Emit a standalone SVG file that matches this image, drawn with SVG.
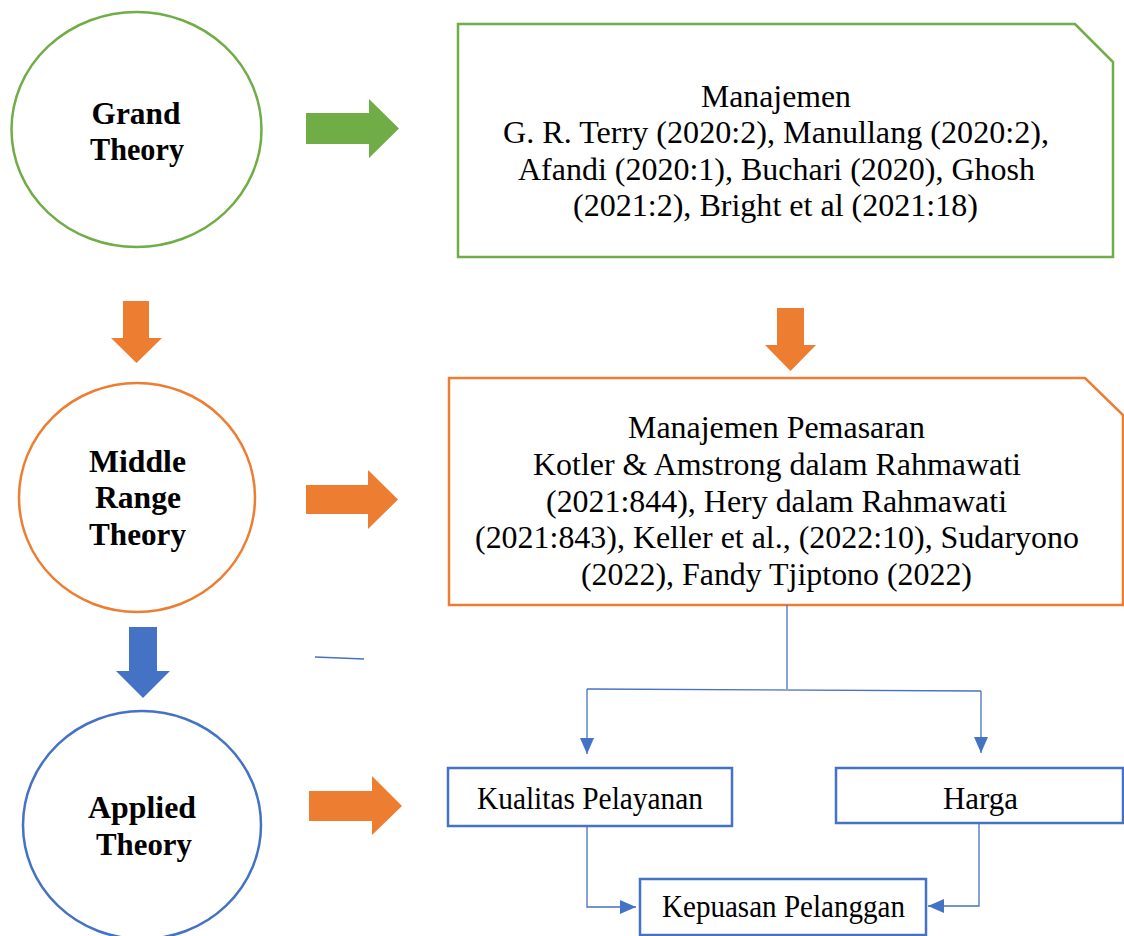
<svg xmlns="http://www.w3.org/2000/svg" width="1124" height="936" viewBox="0 0 1124 936">
<style>
.t{font-family:'Liberation Serif','Times New Roman',Tinos,Times,serif;font-size:31px;fill:#000;text-anchor:middle}
.b{font-weight:bold}
.g{fill:none;stroke:#70AD47;stroke-width:2.5}
.o{fill:none;stroke:#ED7D31;stroke-width:2.5}
.bl{fill:none;stroke:#4472C4;stroke-width:2.5}
.c{fill:none;stroke:#4472C4;stroke-width:1.3}
</style>
<defs>
<marker id="ah" markerUnits="userSpaceOnUse" markerWidth="16" markerHeight="14" refX="16" refY="7" orient="auto">
<path d="M0,0 L16,7 L0,14 z" fill="#4472C4"/>
</marker>
</defs>
<rect width="1124" height="936" fill="#fff"/>
<g id="grand">
<ellipse class="g" cx="136.5" cy="129.5" rx="125" ry="117.5"/>
<text class="t b" x="136" y="124" textLength="89" lengthAdjust="spacingAndGlyphs">Grand</text>
<text class="t b" x="137" y="160" textLength="94" lengthAdjust="spacingAndGlyphs">Theory</text>
</g>
<g id="middle">
<ellipse class="o" cx="137" cy="497.5" rx="118" ry="114.5"/>
<text class="t b" x="137.5" y="472" textLength="97" lengthAdjust="spacingAndGlyphs">Middle</text>
<text class="t b" x="138" y="508" textLength="86" lengthAdjust="spacingAndGlyphs">Range</text>
<text class="t b" x="137.5" y="545" textLength="97" lengthAdjust="spacingAndGlyphs">Theory</text>
</g>
<g id="applied">
<ellipse class="bl" cx="142" cy="825" rx="119" ry="114"/>
<text class="t b" x="142" y="818" textLength="108" lengthAdjust="spacingAndGlyphs">Applied</text>
<text class="t b" x="144" y="855" textLength="96" lengthAdjust="spacingAndGlyphs">Theory</text>
</g>
<g id="manajemen">
<path class="g" d="M458,24 H1075 L1113,62 V257 H458 Z"/>
<text class="t" x="776" y="107" textLength="150" lengthAdjust="spacingAndGlyphs">Manajemen</text>
<text class="t" x="776" y="143" textLength="546" lengthAdjust="spacingAndGlyphs">G. R. Terry (2020:2), Manullang (2020:2),</text>
<text class="t" x="776.5" y="180" textLength="517" lengthAdjust="spacingAndGlyphs">Afandi (2020:1), Buchari (2020), Ghosh</text>
<text class="t" x="775.5" y="216" textLength="405" lengthAdjust="spacingAndGlyphs">(2021:2), Bright et al (2021:18)</text>
</g>
<g id="pemasaran">
<path class="o" d="M449,378 H1085 L1123,415 V605 H449 Z"/>
<text class="t" x="776.5" y="438" textLength="297" lengthAdjust="spacingAndGlyphs">Manajemen Pemasaran</text>
<text class="t" x="777" y="475" textLength="488" lengthAdjust="spacingAndGlyphs">Kotler &amp; Amstrong dalam Rahmawati</text>
<text class="t" x="776.5" y="512" textLength="461" lengthAdjust="spacingAndGlyphs">(2021:844), Hery dalam Rahmawati</text>
<text class="t" x="777" y="548" textLength="604" lengthAdjust="spacingAndGlyphs">(2021:843), Keller et al., (2022:10), Sudaryono</text>
<text class="t" x="776.5" y="585" textLength="391" lengthAdjust="spacingAndGlyphs">(2022), Fandy Tjiptono (2022)</text>
</g>
<g id="kualitas">
<rect class="bl" x="448" y="768" width="284" height="58"/>
<text class="t" x="590" y="809" textLength="226" lengthAdjust="spacingAndGlyphs">Kualitas Pelayanan</text>
</g>
<g id="harga">
<rect class="bl" x="836" y="768" width="287" height="55"/>
<text class="t" x="980.5" y="809" font-size="33" textLength="75" lengthAdjust="spacingAndGlyphs">Harga</text>
</g>
<g id="kepuasan">
<rect class="bl" x="640" y="879" width="286" height="56"/>
<text class="t" x="783.5" y="917" font-size="30" textLength="243" lengthAdjust="spacingAndGlyphs">Kepuasan Pelanggan</text>
</g>
<g id="connectors">
<polygon fill="#70AD47" points="306,113 369,113 369,99 399,128.5 369,158 369,144 306,144"/>
<polygon fill="#ED7D31" points="123,301 149,301 149,338 162,338 136.5,363 111,338 123,338"/>
<polygon fill="#ED7D31" points="306,485 368,485 368,470 398,499.5 368,529 368,514 306,514"/>
<polygon fill="#ED7D31" points="777,308 804,308 804,345 816,345 790.5,371 765,345 777,345"/>
<polygon fill="#4472C4" points="129,627 157,627 157,671 170,671 143,698 116,671 129,671"/>
<polygon fill="#ED7D31" points="309,791 372,791 372,776 402,806 372,835 372,821 309,821"/>
<path class="c" d="M315,657 L364,659"/>
<path class="c" d="M787,605 V689"/>
<path class="c" d="M587,689 L981,691"/>
<path class="c" d="M587,689 V754" marker-end="url(#ah)"/>
<path class="c" d="M981,691 V753" marker-end="url(#ah)"/>
<path class="c" d="M587,826 V907 H636" marker-end="url(#ah)"/>
<path class="c" d="M979,823 V906 H928" marker-end="url(#ah)"/>
</g>
</svg>
